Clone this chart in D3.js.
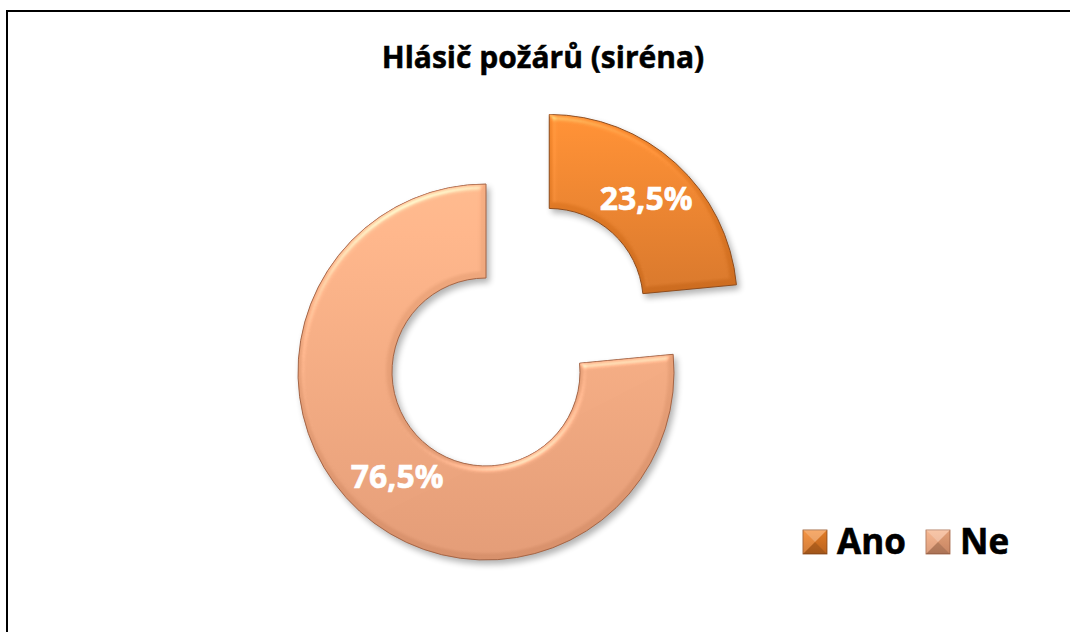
<!DOCTYPE html>
<html>
<head>
<meta charset="utf-8">
<script src="https://cdn.jsdelivr.net/npm/d3@7"></script>
<style>
  body { margin: 0; background: #fff; }
  text { font-family: "Open Sans", "Noto Sans", sans-serif; font-weight: bold; }
</style>
</head>
<body>
<svg id="chart"></svg>
<script>
// data
var categories = ["Ano", "Ne"];
var values = [23.5, 76.5];
var labels = ["23,5%", "76,5%"];
var title = "Hlásič požárů (siréna)";
var colorsTop = ["#f4862a", "#f6ae82"];
var colorsBottom = ["#cc6c20", "#d8916c"];

var width = 1070, height = 632;

var svg = d3.select("#chart")
  .attr("width", width)
  .attr("height", height);

// frame
svg.append("rect")
  .attr("x", 7).attr("y", 11)
  .attr("width", 1080).attr("height", 640)
  .attr("fill", "#fff")
  .attr("stroke", "#000")
  .attr("stroke-width", 2);

var defs = svg.append("defs");

// bevel + shadow filter
var f = defs.append("filter").attr("id", "bevel")
  .attr("color-interpolation-filters", "sRGB")
  .attr("x", "-10%").attr("y", "-10%").attr("width", "125%").attr("height", "125%");
f.append("feGaussianBlur").attr("in", "SourceAlpha").attr("stdDeviation", 3).attr("result", "blur");
f.append("feSpecularLighting").attr("in", "blur").attr("surfaceScale", 3)
  .attr("specularConstant", 0.8).attr("specularExponent", 24)
  .attr("lighting-color", "#ffffff").attr("result", "spec")
  .append("fePointLight").attr("x", -5000).attr("y", -10000).attr("z", 12000);
f.append("feComposite").attr("in", "spec").attr("in2", "SourceAlpha")
  .attr("operator", "in").attr("result", "specOut");
f.append("feComposite").attr("in", "SourceGraphic").attr("in2", "specOut")
  .attr("operator", "arithmetic").attr("k1", 0).attr("k2", 1).attr("k3", 0.35).attr("k4", 0)
  .attr("result", "lit");
f.append("feGaussianBlur").attr("in", "SourceAlpha").attr("stdDeviation", 3).attr("result", "sblur");
f.append("feOffset").attr("in", "sblur").attr("dx", 3).attr("dy", 4).attr("result", "soff");
f.append("feComponentTransfer").attr("in", "soff").attr("result", "shadow")
  .append("feFuncA").attr("type", "linear").attr("slope", 0.3);
var merge = f.append("feMerge");
merge.append("feMergeNode").attr("in", "shadow");
merge.append("feMergeNode").attr("in", "lit");

// gradients
categories.forEach(function(c, i) {
  var g = defs.append("linearGradient").attr("id", "grad" + i)
    .attr("x1", 0).attr("y1", 0).attr("x2", 0).attr("y2", 1);
  g.append("stop").attr("offset", "0%").attr("stop-color", colorsTop[i]);
  g.append("stop").attr("offset", "100%").attr("stop-color", colorsBottom[i]);
});

// title
svg.append("text")
  .attr("x", 543).attr("y", 68)
  .attr("text-anchor", "middle")
  .attr("font-size", 30)
  .attr("stroke", "#000").attr("stroke-width", 0.5)
  .text(title);

// doughnut
var cx = 486, cy = 372, outerR = 188, innerR = 94, explode = 94;

var pie = d3.pie().sort(null).value(function(d) { return d; });
var arc = d3.arc().innerRadius(innerR).outerRadius(outerR);
var arcs = pie(values);

var slices = svg.append("g")
  .attr("transform", "translate(" + cx + "," + cy + ")")
  .selectAll("g")
  .data(arcs)
  .enter()
  .append("g")
  .attr("transform", function(d, i) {
    if (i !== 0) return null;
    var a = (d.startAngle + d.endAngle) / 2;
    return "translate(" + (explode * Math.sin(a)) + "," + (-explode * Math.cos(a)) + ")";
  });

slices.append("path")
  .attr("d", arc)
  .attr("fill", function(d, i) { return "url(#grad" + i + ")"; })
  .attr("stroke", function(d, i) { return i === 0 ? "#8f4c1c" : "#a46546"; })
  .attr("stroke-width", 1)
  .attr("filter", "url(#bevel)");

slices.append("text")
  .attr("transform", function(d) { return "translate(" + arc.centroid(d) + ")"; })
  .attr("text-anchor", "middle")
  .attr("dy", "0.36em")
  .attr("dx", function(d, i) { return i === 1 ? 6 : 2; })
  .attr("font-size", 32)
  .attr("fill", "#fff")
  .attr("stroke", "#fff").attr("stroke-width", 0.6)
  .text(function(d, i) { return labels[i]; });

// legend
var legendX = [803, 926];
var legend = svg.append("g")
  .selectAll("g")
  .data(categories)
  .enter()
  .append("g")
  .attr("transform", function(d, i) { return "translate(" + legendX[i] + ",530)"; });

var s = 24;
legend.append("rect")
  .attr("width", s).attr("height", s)
  .attr("fill", function(d, i) { return "url(#grad" + i + ")"; })
  .attr("stroke", function(d, i) { return i === 0 ? "#8f4c1c" : "#a46546"; })
  .attr("stroke-width", 0.8);
// pyramid facets
var facets = [
  ["M0,0L" + s + ",0L" + (s / 2) + "," + (s / 2) + "Z", "#fff", 0.3],
  ["M0,0L0," + s + "L" + (s / 2) + "," + (s / 2) + "Z", "#fff", 0.12],
  ["M" + s + ",0L" + s + "," + s + "L" + (s / 2) + "," + (s / 2) + "Z", "#000", 0.08],
  ["M0," + s + "L" + s + "," + s + "L" + (s / 2) + "," + (s / 2) + "Z", "#000", 0.2]
];
facets.forEach(function(p) {
  legend.append("path").attr("d", p[0]).attr("fill", p[1]).attr("opacity", p[2]);
});

legend.append("text")
  .attr("x", 34).attr("y", 24)
  .attr("font-size", 35)
  .attr("fill", "#000")
  .attr("stroke", "#000").attr("stroke-width", 0.6)
  .text(function(d) { return d; });
</script>
</body>
</html>
